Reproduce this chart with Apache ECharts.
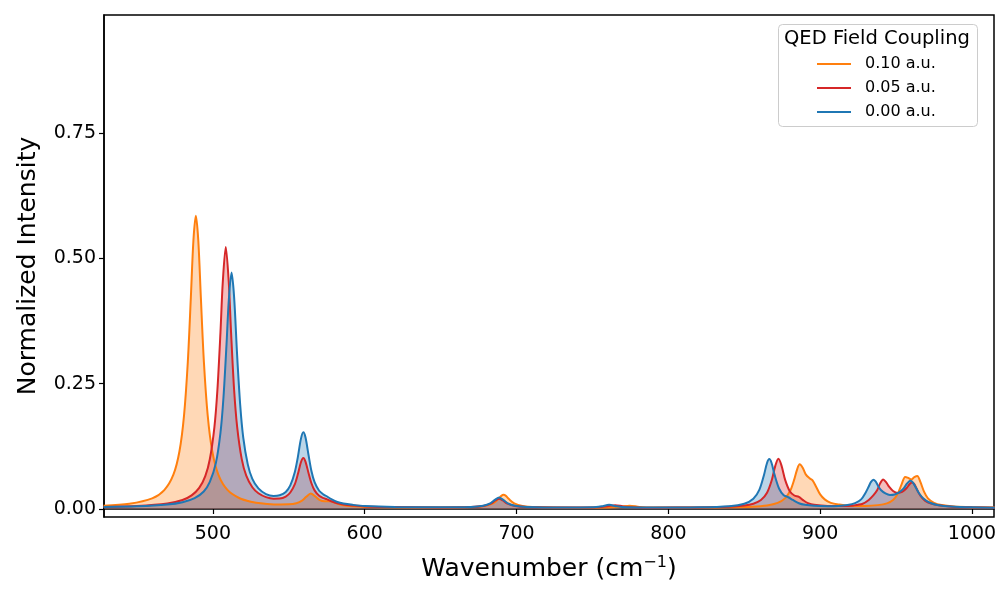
<!DOCTYPE html>
<html>
<head>
<meta charset="utf-8">
<script src="https://cdn.jsdelivr.net/npm/echarts@6/dist/echarts.min.js"></script>
<style>
  html, body { margin: 0; background: #fff; }
  #chart { width: 1000px; height: 600px; }
</style>
</head>
<body>
<div id="chart"></div>
<script>
// spectra: wavenumber (cm-1) and normalized intensity
var x010 = [428, 445, 460, 468, 474, 478, 481, 483.5, 485.5, 487.2, 488.8, 490.4, 492.1, 494.1, 496.6, 499.6, 503.6, 509.6, 517.6, 525, 533, 542, 550, 555, 559, 561.5, 564.5, 567.5, 570.5, 573.5, 577.5, 581, 585, 592, 600, 620, 650, 670, 679, 684.5, 688, 690, 691.5, 693, 695, 698.5, 704, 713, 740, 760, 768, 774.5, 781, 790, 820, 840, 855, 865, 872, 877, 880.5, 883, 885, 886.5, 888.5, 890.5, 893, 895, 897.5, 900, 903, 907, 912, 920, 930, 938, 944, 948, 951, 953.5, 956, 958, 960, 962, 964, 966, 968.5, 971, 975, 980, 988, 1000, 1015];
var y010 = [0.0064, 0.0104, 0.0211, 0.0376, 0.0684, 0.1152, 0.1864, 0.2935, 0.4218, 0.5363, 0.5855, 0.5363, 0.4218, 0.2935, 0.187, 0.1155, 0.0688, 0.0381, 0.0214, 0.0146, 0.0109, 0.009, 0.0093, 0.0116, 0.0173, 0.0243, 0.0311, 0.0249, 0.0177, 0.0154, 0.0156, 0.0117, 0.0079, 0.0053, 0.0042, 0.0034, 0.003, 0.0038, 0.006, 0.0112, 0.0198, 0.0262, 0.0284, 0.0262, 0.0198, 0.0112, 0.006, 0.0038, 0.0027, 0.003, 0.0041, 0.0066, 0.0041, 0.003, 0.0029, 0.0034, 0.0046, 0.0071, 0.0121, 0.0216, 0.0379, 0.0597, 0.0807, 0.0892, 0.0824, 0.0691, 0.0614, 0.0572, 0.0435, 0.0291, 0.0192, 0.0123, 0.009, 0.0062, 0.0061, 0.0077, 0.0112, 0.0179, 0.030, 0.048, 0.064, 0.062, 0.059, 0.0635, 0.066, 0.054, 0.034, 0.0211, 0.0122, 0.0078, 0.005, 0.0036, 0.0029];

var x005 = [428, 450, 470, 480, 486, 491, 495, 498, 501, 503, 505, 506.5, 508.5, 510.5, 512, 514, 516, 519, 522, 526, 530, 535, 540, 544, 548, 551, 554, 556, 558, 559.6, 561, 563, 565, 567, 570, 573, 575, 578, 582, 586, 592, 600, 620, 650, 670, 678, 683, 686, 688.5, 691, 694, 699, 707, 730, 750, 756, 760, 765, 770, 775, 790, 820, 840, 850, 856, 861, 865, 868, 870.5, 872.5, 874.5, 877, 880, 883, 886, 889, 892, 896, 905, 915, 922, 928, 932, 935, 937.5, 939.5, 941.5, 943.5, 945.5, 948, 951, 954, 957, 959, 960.5, 962, 964, 966, 969, 973, 979, 987, 1000, 1015];
var y005 = [0.0042, 0.0061, 0.011, 0.018, 0.0271, 0.042, 0.0656, 0.0992, 0.163, 0.238, 0.352, 0.451, 0.523, 0.451, 0.352, 0.238, 0.164, 0.100, 0.0664, 0.0433, 0.0313, 0.0236, 0.0206, 0.0209, 0.0249, 0.0329, 0.0498, 0.0697, 0.0932, 0.1017, 0.0946, 0.0719, 0.0508, 0.0371, 0.0262, 0.0216, 0.0196, 0.0155, 0.0112, 0.0089, 0.007, 0.0052, 0.0038, 0.0032, 0.0039, 0.0059, 0.0107, 0.017, 0.0206, 0.017, 0.0107, 0.0059, 0.0039, 0.003, 0.0032, 0.004, 0.0052, 0.0077, 0.0052, 0.0037, 0.0027, 0.0031, 0.0043, 0.0068, 0.0105, 0.0178, 0.0325, 0.0563, 0.0866, 0.1002, 0.0871, 0.0575, 0.0355, 0.0269, 0.0242, 0.0172, 0.0117, 0.0083, 0.006, 0.0058, 0.0071, 0.0104, 0.018, 0.027, 0.0372, 0.0511, 0.0588, 0.053, 0.044, 0.036, 0.032, 0.034, 0.042, 0.05, 0.053, 0.0496, 0.0374, 0.0266, 0.0167, 0.0106, 0.0068, 0.0047, 0.0034, 0.0027];

var x000 = [428, 450, 470, 480, 488, 494, 498, 502, 505, 507, 509, 510.5, 512.3, 514, 516, 518, 520, 523, 526, 530, 535, 540, 544, 548, 551, 554, 556, 558, 559.6, 561, 563, 565, 567, 570, 573, 575, 578, 582, 586, 592, 600, 620, 650, 670, 678, 683, 686, 688.5, 691, 694, 699, 707, 730, 750, 756, 761, 766, 772, 790, 820, 840, 850, 856, 860, 863, 865, 866.5, 868, 870, 873, 876, 879, 882, 886, 890, 896, 905, 912, 918, 923, 927, 930, 932, 933.5, 935, 936.5, 938, 940, 943, 946, 949, 952, 955, 957, 958.5, 959.5, 961, 963, 965, 968, 972, 978, 986, 1000, 1015];
var y000 = [0.004, 0.0053, 0.0089, 0.0136, 0.0217, 0.035, 0.054, 0.092, 0.152, 0.223, 0.329, 0.417, 0.472, 0.423, 0.306, 0.208, 0.143, 0.089, 0.060, 0.041, 0.0297, 0.026, 0.0274, 0.034, 0.047, 0.074, 0.104, 0.140, 0.153, 0.143, 0.108, 0.0747, 0.0535, 0.0364, 0.0287, 0.0254, 0.0197, 0.0139, 0.0108, 0.0083, 0.006, 0.0041, 0.0034, 0.0042, 0.0065, 0.0118, 0.0187, 0.0227, 0.0187, 0.0118, 0.0065, 0.0042, 0.0029, 0.0033, 0.0053, 0.0083, 0.0053, 0.0033, 0.0028, 0.0034, 0.0056, 0.0105, 0.0205, 0.0387, 0.0679, 0.0919, 0.0996, 0.0918, 0.0681, 0.0404, 0.0275, 0.0234, 0.018, 0.0114, 0.0083, 0.0064, 0.0057, 0.0061, 0.008, 0.0118, 0.0192, 0.033, 0.045, 0.054, 0.0586, 0.055, 0.047, 0.038, 0.031, 0.028, 0.029, 0.033, 0.041, 0.05, 0.055, 0.0564, 0.053, 0.043, 0.032, 0.021, 0.013, 0.0075, 0.005, 0.0033, 0.0027];

var xTicks = [500, 600, 700, 800, 900, 1000];
var yTicks = [0, 0.25, 0.5, 0.75];
var names = ['0.10 a.u.', '0.05 a.u.', '0.00 a.u.'];
var colors = ['#ff7f0e', '#d62728', '#1f77b4'];

var FONT = 'DejaVu Sans';

function pairs(xs, ys) {
    return xs.map(function (x, i) { return [x, ys[i]]; });
}

// fills go underneath, lines on top of all fills
function fill(i, xs, ys) {
    return {
        name: names[i],
        type: 'line',
        data: pairs(xs, ys),
        showSymbol: false,
        smooth: 0.3,
        z: 2,
        lineStyle: { width: 0 },
        itemStyle: { color: colors[i] },
        areaStyle: { color: colors[i], opacity: 0.3 }
    };
}

function line(i, xs, ys) {
    return {
        name: names[i],
        type: 'line',
        data: pairs(xs, ys),
        showSymbol: false,
        smooth: 0.3,
        z: 3,
        lineStyle: { width: 2, color: colors[i] },
        itemStyle: { color: colors[i] }
    };
}

var chart = echarts.init(document.getElementById('chart'));

var option = {
    animation: false,
    textStyle: { fontFamily: FONT },
    grid: {
        left: 104, right: 6, top: 15, bottom: 83,
        show: true, borderColor: '#000', borderWidth: 1.5,
        outerBoundsMode: 'none'
    },
    xAxis: {
        type: 'value',
        min: 428.3,
        max: 1014.5,
        name: 'Wavenumber (cm{sup|\u22121})',
        nameLocation: 'middle',
        nameGap: 38,
        nameTextStyle: {
            fontSize: 25, color: '#000', fontFamily: FONT,
            rich: { sup: { fontSize: 16, fontFamily: FONT, color: '#000', verticalAlign: 'top', padding: [0, 0, 13, 0] } }
        },
        axisLine: { lineStyle: { color: '#000', width: 1.5 } },
        axisTick: { customValues: xTicks, length: 5, lineStyle: { color: '#000', width: 1.2 } },
        axisLabel: {
            customValues: xTicks, fontSize: 19, color: '#000', fontFamily: FONT, margin: 8,
            formatter: function (v) { return String(v); }
        },
        splitLine: { show: false }
    },
    yAxis: {
        type: 'value',
        min: -0.016,
        max: 0.986,
        name: 'Normalized Intensity',
        nameLocation: 'middle',
        nameGap: 63,
        nameTextStyle: { fontSize: 25, color: '#000', fontFamily: FONT },
        axisLine: { show: true, lineStyle: { color: '#000', width: 1.5 } },
        axisTick: { show: true, customValues: yTicks, length: 5, lineStyle: { color: '#000', width: 1.2 } },
        axisLabel: {
            customValues: yTicks, fontSize: 19, color: '#000', fontFamily: FONT, margin: 8,
            formatter: function (v) { return v.toFixed(2); }
        },
        splitLine: { show: false }
    },
    legend: {
        data: names,
        orient: 'vertical',
        left: 817,
        top: 56,
        padding: 0,
        z: 20,
        icon: 'rect',
        itemWidth: 34,
        itemHeight: 2,
        itemGap: 8,
        textStyle: { fontSize: 16, color: '#000', fontFamily: FONT, padding: [0, 0, 0, 9] }
    },
    graphic: [
        {
            type: 'rect', left: 778, top: 24, z: 10,
            shape: { width: 199, height: 102, r: 4 },
            style: { fill: 'rgba(255,255,255,0.8)', stroke: '#cccccc', lineWidth: 1 }
        },
        {
            type: 'text', left: 784, top: 29, z: 21,
            style: { text: 'QED Field Coupling', fontSize: 19.5, fontFamily: FONT, fill: '#000' }
        }
    ],
    series: [
        fill(0, x010, y010),
        fill(1, x005, y005),
        fill(2, x000, y000),
        line(0, x010, y010),
        line(1, x005, y005),
        line(2, x000, y000)
    ]
};

chart.setOption(option);
</script>
</body>
</html>
